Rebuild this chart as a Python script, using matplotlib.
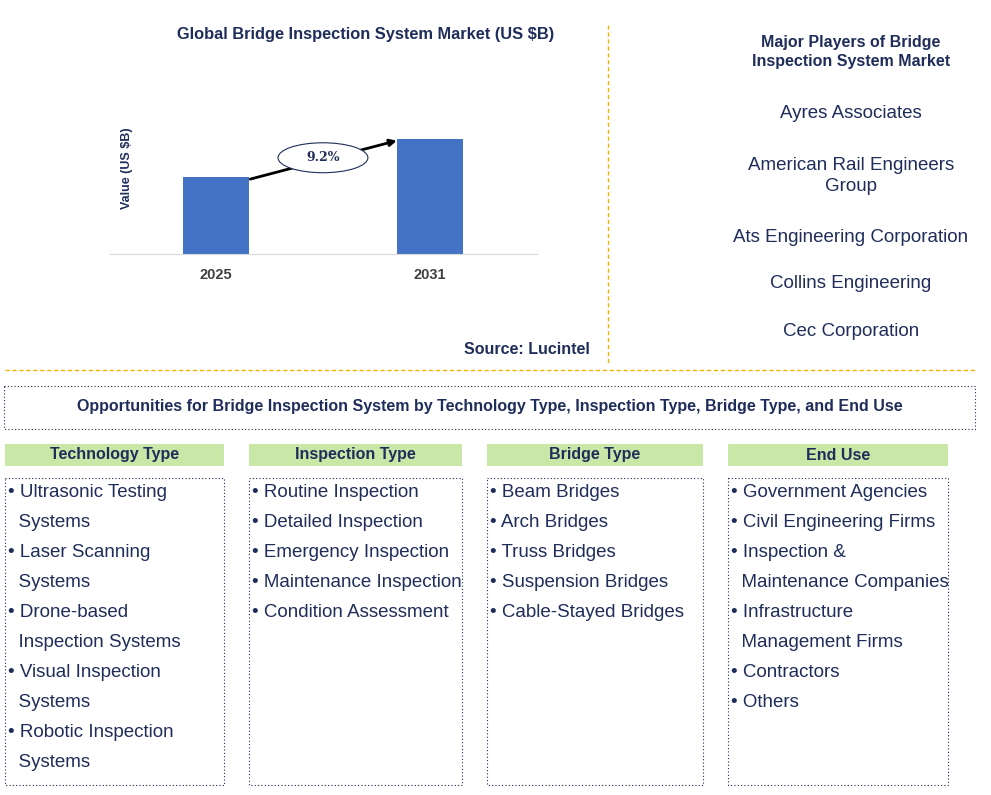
import matplotlib.pyplot as plt
from matplotlib.patches import Rectangle, Ellipse

plt.rcParams["font.family"] = "Liberation Sans"

years = ["2025", "2031"]
values = [1.8, 2.7]
cagr_label = "9.2%"
players = ["Ayres Associates", "American Rail Engineers\nGroup", "Ats Engineering Corporation",
           "Collins Engineering", "Cec Corporation"]
segment_titles = ["Technology Type", "Inspection Type", "Bridge Type", "End Use"]
segment_items = [
    ["• Ultrasonic Testing\n  Systems", "• Laser Scanning\n  Systems", "• Drone-based\n  Inspection Systems",
     "• Visual Inspection\n  Systems", "• Robotic Inspection\n  Systems"],
    ["• Routine Inspection", "• Detailed Inspection", "• Emergency Inspection",
     "• Maintenance Inspection", "• Condition Assessment"],
    ["• Beam Bridges", "• Arch Bridges", "• Truss Bridges", "• Suspension Bridges", "• Cable-Stayed Bridges"],
    ["• Government Agencies", "• Civil Engineering Firms", "• Inspection &\n  Maintenance Companies",
     "• Infrastructure\n  Management Firms", "• Contractors", "• Others"],
]

W, H = 991, 795
NAVY = "#1f2d5a"
BLUE = "#4472c4"
ORANGE = "#f0b400"
GREEN = "#c9e7a7"

fig = plt.figure(figsize=(W / 100, H / 100), dpi=100)
bg = fig.add_axes([0, 0, 1, 1])
bg.set_xlim(0, W)
bg.set_ylim(H, 0)
bg.axis("off")

# bar chart
ax = fig.add_axes([110 / W, 1 - 254 / H, 427 / W, 154 / H])
x = [0, 1]
ax.bar(x, values, width=0.31, color=BLUE)
ax.set_xlim(-0.495, 1.5)
ax.set_ylim(0, 3.6)
ax.set_yticks([])
ax.set_xticks(x)
ax.set_xticklabels(years, fontsize=10.5, fontweight="bold", color="#404040")
ax.tick_params(axis="x", length=0, pad=10)
for s in ["top", "right", "left"]:
    ax.spines[s].set_visible(False)
ax.spines["bottom"].set_color("#d9d9d9")
ax.patch.set_alpha(0)
ax.annotate("", xy=(1 - 0.155, values[1] - 0.05), xytext=(0 + 0.16, values[0] - 0.05),
            arrowprops=dict(arrowstyle="-|>", color="black", lw=2, shrinkA=0, shrinkB=0))
ax.add_patch(Ellipse((0.5, 2.25), 0.42, 0.7, facecolor="white", edgecolor=NAVY, lw=0.8, zorder=5))
ax.text(0.5, 2.25, cagr_label, ha="center", va="center", fontsize=9, fontweight="bold",
        family="DejaVu Serif", color=NAVY, zorder=6)

bg.text(366, 35, "Global Bridge Inspection System Market (US $B)", ha="center", va="center",
        fontsize=11.8, fontweight="bold", color=NAVY)
bg.text(127, 168, "Value (US $B)", rotation=90, ha="center", va="center", fontsize=9,
        fontweight="bold", color=NAVY)
bg.text(590, 349, "Source: Lucintel", ha="right", va="center", fontsize=11.5, fontweight="bold", color=NAVY)

# separators
bg.plot([608, 608], [25, 365], color=ORANGE, lw=1, ls=(0, (3, 2)))
bg.plot([5, 975], [370, 370], color=ORANGE, lw=1, ls=(0, (3, 2)))

# players
bg.text(851, 52, "Major Players of Bridge\nInspection System Market", ha="center", va="center",
        fontsize=11.5, fontweight="bold", color=NAVY, linespacing=1.3)
player_y = [114, 176, 238, 284, 331]
for name, py in zip(players, player_y):
    bg.text(851, py, name, ha="center", va="center", fontsize=13.5, color=NAVY, linespacing=1.3)

# opportunities
bg.add_patch(Rectangle((4, 386), 971, 43, fill=False, edgecolor=NAVY, lw=0.8, ls=(0, (1, 2))))
bg.text(490, 407, "Opportunities for Bridge Inspection System by Technology Type, Inspection Type, Bridge Type, and End Use",
        ha="center", va="center", fontsize=11.5, fontweight="bold", color=NAVY)

cols = [(5, 224), (249, 462), (487, 703), (728, 948)]
for (x0, x1), title, items in zip(cols, segment_titles, segment_items):
    bg.add_patch(Rectangle((x0, 444), x1 - x0, 22, facecolor=GREEN, edgecolor="none"))
    bg.text((x0 + x1) / 2, 455, title, ha="center", va="center", fontsize=11.5,
            fontweight="bold", color=NAVY)
    bg.add_patch(Rectangle((x0, 478), x1 - x0, 307, fill=False, edgecolor=NAVY, lw=0.8, ls=(0, (1, 2))))
    y = 495
    for it in items:
        n = it.count("\n") + 1
        bg.text(x0 + 3, y - 11, it, ha="left", va="top", fontsize=13.5, color=NAVY, linespacing=1.98)
        y += 30 * n

fig.savefig("out.png", dpi=100)
